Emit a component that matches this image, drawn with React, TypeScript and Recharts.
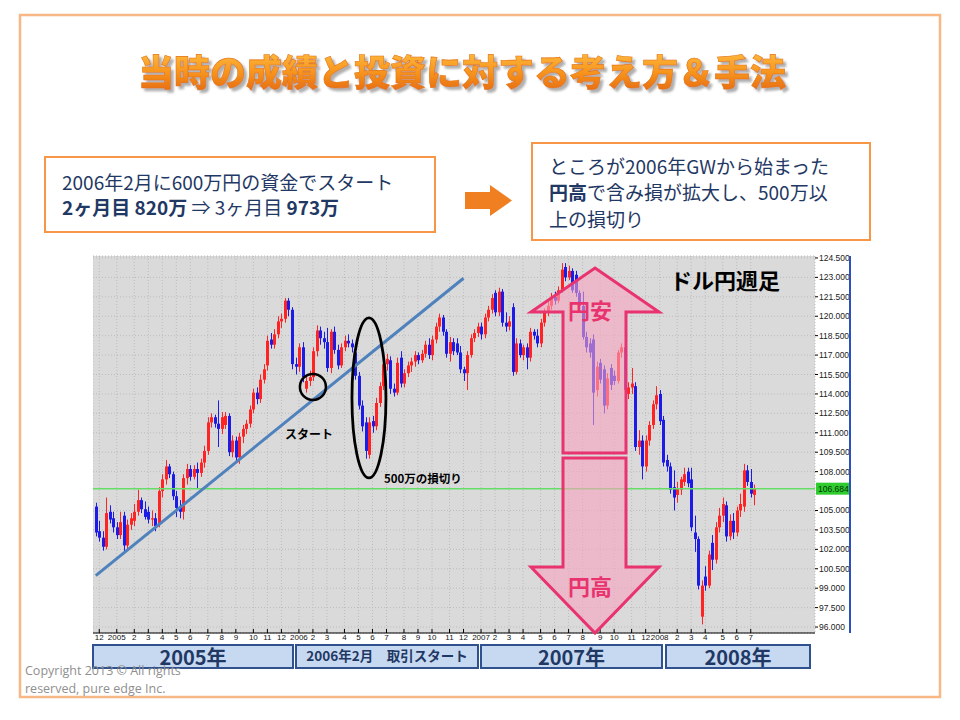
import React from "react"
import { ComposedChart, Bar, XAxis, YAxis, CartesianGrid, ReferenceLine, ReferenceDot } from "recharts"

// weekly USD/JPY candles: [open, high, low, close]
type Candle = [number, number, number, number]

const seg2005: Candle[] = [
  [105.3, 105.6, 103.0, 103.3], [103.4, 104.2, 102.6, 102.9], [102.9, 103.4, 101.9, 102.2], [102.2, 106.0, 102.0, 104.8],
  [104.9, 105.4, 104.0, 104.3], [104.4, 104.9, 103.3, 103.7], [103.7, 104.1, 102.8, 103.1], [103.1, 104.9, 102.8, 104.1],
  [104.6, 104.9, 101.7, 102.3], [102.3, 104.3, 102.0, 103.9], [103.9, 104.8, 103.5, 104.4], [104.2, 105.5, 103.8, 104.9],
  [104.9, 106.6, 104.6, 105.8], [105.8, 106.0, 104.8, 105.1], [105.1, 105.7, 104.3, 104.5], [104.9, 105.3, 104.0, 104.3],
  [104.3, 105.0, 103.8, 104.4], [104.4, 104.8, 103.4, 103.8], [103.9, 106.8, 103.7, 106.5], [106.5, 107.8, 106.0, 107.4],
  [107.4, 108.9, 107.0, 108.4], [108.4, 108.6, 107.5, 107.8], [107.8, 108.0, 105.8, 106.1], [106.1, 106.5, 104.5, 105.2],
  [105.3, 105.8, 104.4, 104.9], [104.9, 107.8, 104.3, 107.5], [107.5, 108.6, 107.0, 108.2], [108.2, 108.5, 107.3, 107.6],
  [107.6, 108.5, 107.4, 108.2], [108.2, 108.7, 106.7, 107.9], [107.9, 109.0, 107.6, 108.7], [108.7, 110.0, 108.3, 109.6],
  [109.6, 112.2, 109.3, 111.8], [111.8, 112.5, 111.4, 112.2], [112.2, 112.4, 111.4, 111.7], [111.7, 113.5, 109.9, 111.3],
  [111.3, 112.6, 110.9, 112.2], [111.6, 112.6, 111.3, 112.3], [112.3, 112.5, 109.2, 109.5], [109.5, 110.8, 109.1, 110.4],
  [110.4, 110.7, 108.8, 109.1], [109.1, 111.0, 108.6, 110.7], [110.7, 111.6, 110.2, 111.3], [111.3, 112.0, 110.9, 111.7],
  [111.7, 113.1, 111.4, 112.8], [112.8, 114.4, 112.5, 114.1], [114.1, 114.5, 113.2, 113.6], [113.6, 115.5, 113.3, 115.1],
  [115.1, 116.3, 114.8, 115.9], [116.2, 118.5, 115.8, 118.1], [118.2, 118.7, 117.5, 117.8], [117.8, 119.0, 117.5, 118.6],
  [118.6, 120.0, 118.3, 119.6], [119.6, 120.2, 119.1, 119.8], [119.8, 121.4, 119.5, 121.2], [121.2, 121.4, 120.0, 120.5],
  [120.5, 120.7, 115.9, 116.3],
]

const seg2006: Candle[] = [
  [116.3, 116.8, 115.5, 116.1], [116.1, 117.9, 115.7, 117.6], [117.6, 118.0, 114.9, 115.3], [114.4, 115.3, 114.1, 115.0],
  [115.0, 115.8, 114.6, 115.3], [115.3, 117.6, 115.0, 117.3], [117.3, 119.3, 116.9, 118.9], [118.9, 119.2, 117.8, 118.3],
  [118.3, 118.8, 117.5, 118.0], [118.0, 119.1, 115.7, 116.0], [116.0, 119.0, 115.6, 118.8], [118.8, 119.2, 117.1, 117.4],
  [117.4, 117.8, 115.9, 116.2], [116.2, 117.9, 116.0, 117.6], [117.6, 118.5, 117.3, 118.1], [118.1, 118.6, 117.6, 117.9],
  [117.9, 118.2, 117.2, 117.6], [117.2, 117.5, 115.1, 115.4], [115.4, 115.7, 112.8, 113.1], [113.1, 113.5, 111.1, 111.5],
  [111.8, 112.2, 109.0, 109.6], [109.3, 112.2, 109.0, 111.8], [111.9, 112.3, 111.0, 111.5], [111.5, 113.7, 111.2, 113.3],
  [113.3, 114.9, 113.0, 114.6], [114.6, 116.7, 114.3, 116.3], [116.3, 117.1, 115.8, 116.7], [116.6, 116.9, 114.0, 114.4],
  [114.4, 114.8, 113.8, 114.1], [114.1, 116.8, 113.9, 116.4], [116.8, 117.3, 114.5, 114.8], [114.8, 115.9, 114.5, 115.6],
  [115.6, 116.5, 115.3, 116.2], [116.2, 116.8, 115.7, 116.5], [116.5, 117.3, 116.1, 117.0], [117.0, 117.2, 116.3, 116.6],
  [116.6, 117.4, 116.4, 117.1], [117.1, 118.1, 116.8, 117.8], [117.8, 118.3, 116.7, 117.0], [117.0, 118.5, 116.6, 118.2],
  [118.2, 119.5, 117.9, 119.2], [119.2, 120.2, 118.8, 119.9], [119.9, 120.1, 118.5, 118.8], [118.8, 119.0, 116.8, 117.1],
  [117.1, 118.4, 116.5, 118.0], [118.0, 118.3, 117.0, 117.3], [117.9, 118.3, 117.0, 117.2], [117.2, 117.7, 115.6, 115.9],
  [115.9, 116.1, 115.0, 115.6], [115.6, 117.3, 114.3, 117.0], [117.0, 118.6, 116.8, 118.3], [118.3, 119.0, 118.0, 118.7],
]

const seg2007: Candle[] = [
  [118.7, 119.5, 118.4, 119.2], [119.2, 119.5, 118.2, 118.6], [118.6, 120.2, 118.3, 119.9], [119.9, 120.8, 119.6, 120.5],
  [120.5, 121.7, 120.2, 121.4], [121.8, 122.0, 120.0, 120.3], [120.3, 122.2, 120.0, 121.9], [121.9, 122.1, 119.2, 119.5],
  [119.5, 120.3, 118.8, 119.2], [119.2, 120.0, 118.9, 119.6], [120.7, 121.0, 115.4, 115.7], [115.7, 118.3, 115.5, 117.9],
  [117.9, 118.2, 116.8, 117.0], [117.0, 117.8, 116.6, 117.6], [117.6, 117.9, 115.9, 116.8], [116.8, 119.1, 116.5, 118.8],
  [118.8, 119.0, 118.2, 118.5], [118.5, 119.0, 117.6, 117.9], [117.9, 119.8, 117.6, 119.5], [119.5, 120.6, 119.2, 120.3],
  [120.3, 121.1, 120.0, 120.8], [120.8, 121.8, 120.5, 121.5], [121.5, 121.9, 120.9, 121.2], [121.2, 122.3, 121.0, 122.0],
  [122.0, 124.1, 121.8, 123.6], [123.8, 124.1, 122.7, 123.0], [123.0, 123.9, 122.8, 123.5], [123.5, 123.7, 121.8, 122.0],
  [123.2, 123.5, 121.5, 121.8], [121.8, 122.0, 120.5, 120.8], [120.8, 121.9, 118.2, 118.4], [118.4, 118.8, 117.2, 117.6],
  [117.9, 118.3, 116.8, 117.2], [118.2, 118.6, 111.6, 114.1], [114.3, 116.5, 113.8, 116.1], [116.4, 116.7, 114.8, 115.1],
  [115.9, 116.2, 112.5, 113.1], [113.1, 115.6, 112.8, 115.2], [116.0, 116.3, 114.3, 114.7], [115.4, 115.8, 114.7, 115.0],
  [115.0, 117.4, 114.8, 117.2], [117.2, 117.9, 116.8, 117.6], [117.6, 117.8, 114.0, 114.3], [114.0, 114.9, 113.6, 114.5],
  [114.5, 116.0, 114.0, 114.8], [114.6, 114.9, 109.6, 109.9], [109.9, 111.2, 109.3, 110.4], [110.4, 110.8, 107.4, 108.4],
  [108.4, 110.8, 108.0, 110.4], [110.4, 111.9, 110.0, 111.6], [111.6, 113.5, 111.3, 113.2], [113.2, 114.6, 112.8, 113.9],
]

const seg2008: Candle[] = [
  [114.0, 114.3, 111.6, 111.9], [112.0, 112.3, 108.4, 108.7], [108.9, 109.3, 108.0, 108.4], [108.4, 108.7, 106.3, 106.6],
  [106.8, 108.1, 105.0, 106.0], [106.2, 107.2, 105.6, 106.7], [106.6, 107.6, 106.2, 107.4], [107.2, 108.3, 106.9, 107.8],
  [108.0, 108.3, 106.8, 107.1], [107.4, 108.3, 103.4, 103.7], [103.3, 104.6, 101.8, 102.8], [102.8, 103.0, 98.9, 99.2],
  [96.8, 99.6, 96.2, 99.2], [99.9, 100.7, 98.8, 99.2], [99.2, 101.9, 99.0, 101.6], [102.5, 103.1, 100.4, 101.2],
  [101.2, 104.1, 100.9, 103.7], [103.7, 105.2, 103.3, 104.6], [104.6, 106.0, 104.1, 105.5], [105.4, 105.7, 102.6, 103.0],
  [103.0, 104.7, 102.7, 104.2], [104.2, 104.8, 102.8, 103.3], [103.3, 105.3, 103.0, 105.0], [105.0, 106.3, 104.5, 105.5],
  [105.3, 108.6, 104.9, 108.1], [108.1, 108.5, 106.9, 107.2], [107.2, 108.2, 106.0, 106.3], [106.2, 107.0, 105.4, 106.7],
]

const lastPrice = 106.684

// month labels along the bottom and the week they sit on
const monthTickWeeks = [1, 6, 11, 15, 19, 23, 27, 32, 36, 40, 45, 49, 53, 58, 62, 66, 71, 75, 79, 83, 88, 92, 96, 101, 105,
  110, 114, 118, 122, 127, 131, 135, 139, 144, 148, 153, 157, 161, 166, 170, 174, 179, 183, 187]
const monthTickLabels = ["12", "2005", "2", "3", "4", "5", "6", "7", "8", "9", "10", "11", "12", "2006", "2", "3", "4", "5",
  "6", "7", "8", "9", "10", "11", "12", "2007", "2", "3", "4", "5", "6", "7", "8", "9", "10", "11", "12", "2008", "2", "3", "4",
  "5", "6", "7"]
// 106.500 sits under the price tag, so it is left out
const priceTicks = [96, 97.5, 99, 100.5, 102, 103.5, 105, 108, 109.5, 111, 112.5, 114, 115.5, 117, 118.5, 120, 121.5,
  123, 124.5]

// hand-drawn support line and marks, in chart units
const trendLine = [{ x: 0, y: 99.97 }, { x: 105, y: 122.93 }]
const startMark = { week: 62, price: 114.54 }
const lossMark = { week: 78, price: 113.69 }

const yearBands = ["2005年", "2006年2月　取引スタート", "2007年", "2008年"]

const rows = [...seg2005, ...seg2006, ...seg2007, ...seg2008].map(([open, high, low, close], i) => ({
  week: i, open, high, low, close, range: [low, high],
}))

const labelOf = new Map(monthTickWeeks.map((w, i) => [w, monthTickLabels[i]]))

const UP = "#ff2424"
const DOWN = "#1c1ce6"
const JP = '"Noto Sans CJK JP", sans-serif'
const SMALL = '"Liberation Sans", Arial, sans-serif'

function CandleShape(props: any) {
  const { x, y, width, height, payload } = props
  if (!payload) return null
  const { open, high, low, close } = payload
  const top = Math.min(y, y + height)
  const h = Math.abs(height)
  const span = high - low || 1
  const py = (v: number) => top + ((high - v) / span) * h
  const cx = Math.round(x + width / 2)
  const color = close >= open ? UP : DOWN
  const bTop = py(Math.max(open, close))
  const bBot = py(Math.min(open, close))
  return (
    <g>
      <line x1={cx + 0.5} x2={cx + 0.5} y1={top} y2={top + h} stroke={color} strokeWidth={1} />
      <rect x={cx - 1} y={bTop} width={3} height={Math.max(1, bBot - bTop)} fill={color} />
    </g>
  )
}

function MonthTick({ x, y, payload }: any) {
  return (
    <g>
      <line x1={x} x2={x} y1={y - 4} y2={y} stroke="#000" />
      <text x={x} y={y + 7} textAnchor="middle" fontSize={8} fontFamily={SMALL} fill="#111">
        {labelOf.get(payload.value)}
      </text>
    </g>
  )
}

function PriceTick({ x, y, payload }: any) {
  return (
    <g>
      <line x1={x} x2={x + 3} y1={y} y2={y} stroke="#000" />
      <text x={x + 4} y={y + 3} fontSize={8.5} fontFamily={SMALL} fill="#222">
        {Number(payload.value).toFixed(3)}
      </text>
    </g>
  )
}

function PriceTag(p: any) {
  const vb = p.viewBox
  if (!vb) return null
  const x = vb.x + vb.width
  return (
    <g>
      <rect x={x + 1} y={vb.y - 6} width={34} height={12} fill="#2fcc2f" />
      <text x={x + 3} y={vb.y + 3} fontSize={8.5} fontFamily={SMALL} fill="#003300">
        {lastPrice.toFixed(3)}
      </text>
    </g>
  )
}

function StopLossEllipse(p: any) {
  return <ellipse cx={p.cx} cy={p.cy} rx={17} ry={80} fill="none" stroke="#000" strokeWidth={2.8} />
}

export default function App() {
  const bandBoxes = [
    { x: 93, w: 200 },
    { x: 296, w: 182 },
    { x: 481, w: 181 },
    { x: 666, w: 144 },
  ]
  return (
    <div style={{ position: "absolute", left: 0, top: 0, width: 960, height: 720, background: "#fff" }}>
      <div style={{ position: "absolute", left: 93, top: 248 }}>
        <ComposedChart width={757} height={399} data={rows} margin={{ top: 8, right: 0, bottom: 0, left: 0 }}>
          <CartesianGrid fill="#dadada" stroke="#bcbcbc" strokeDasharray="1 2" />
          <XAxis
            dataKey="week"
            type="category"
            ticks={monthTickWeeks}
            interval={0}
            height={14}
            tickSize={0}
            tickMargin={0}
            tickLine={false}
            axisLine={{ stroke: "#000" }}
            tick={<MonthTick />}
            padding={{ left: 1, right: 59 }}
          />
          <YAxis
            orientation="right"
            domain={[95.54, 124.65]}
            ticks={priceTicks}
            interval={0}
            allowDataOverflow
            width={35}
            tickSize={0}
            tickMargin={0}
            tickLine={false}
            axisLine={false}
            tick={<PriceTick />}
          />
          <ReferenceLine y={lastPrice} stroke="#66dd66" strokeWidth={1.5} label={PriceTag} />
          <Bar dataKey="range" shape={CandleShape} isAnimationActive={false} />
          <ReferenceLine segment={trendLine} stroke="#4f81bd" strokeWidth={3} ifOverflow="visible" />
          <ReferenceDot x={startMark.week} y={startMark.price} r={13} fill="none" stroke="#000" strokeWidth={2.5} ifOverflow="visible" />
          <ReferenceDot x={lossMark.week} y={lossMark.price} shape={StopLossEllipse} ifOverflow="visible" />
        </ComposedChart>
      </div>

      <svg width={960} height={720} style={{ position: "absolute", left: 0, top: 0, pointerEvents: "none" }}>
        <defs>
          <linearGradient id="titleFill" x1="0" y1="0" x2="0" y2="1">
            <stop offset="0" stopColor="#ffc84a" />
            <stop offset="0.55" stopColor="#f7941d" />
            <stop offset="1" stopColor="#e2620c" />
          </linearGradient>
          <filter id="titleShadow" x="-5%" y="-30%" width="110%" height="160%">
            <feDropShadow dx="3" dy="3" stdDeviation="1.3" floodColor="#7a7a7a" floodOpacity="0.6" />
          </filter>
        </defs>

        <rect x={20} y={15} width={920} height={682} fill="none" stroke="#f8b885" strokeWidth={2.5} />

        <text
          x={462}
          y={86}
          textAnchor="middle"
          fontFamily={JP}
          fontSize={36}
          fontWeight={900}
          fill="url(#titleFill)"
          stroke="#e2751a"
          strokeWidth={0.6}
          filter="url(#titleShadow)"
        >
          当時の成績と投資に対する考え方＆手法
        </text>

        <rect x={45} y={157} width={390} height={75} fill="none" stroke="#f79646" strokeWidth={2} />
        <g fontFamily={JP} fontSize={19} fill="#1f3864" style={{ whiteSpace: "pre" }}>
          <text x={62} y={190}>2006年2月に600万円の資金でスタート</text>
          <text x={62} y={215}>
            <tspan fontWeight={700}>2ヶ月目 820万</tspan>
            <tspan> ⇒ 3ヶ月目 </tspan>
            <tspan fontWeight={700}>973万</tspan>
          </text>
        </g>

        <polygon points="465,192 490,192 490,185 512,200.5 490,216 490,209 465,209" fill="#f07f22" />

        <rect x={532} y={143} width={338} height={97} fill="none" stroke="#f79646" strokeWidth={2} />
        <g fontFamily={JP} fontSize={19} fill="#1f3864" style={{ whiteSpace: "pre" }}>
          <text x={549} y={174}>ところが2006年GWから始まった</text>
          <text x={549} y={200}>
            <tspan fontWeight={700}>円高</tspan>
            <tspan>で含み損が拡大し、500万以</tspan>
          </text>
          <text x={549} y={227}>上の損切り</text>
        </g>

        <line x1={850} x2={850} y1={256} y2={633} stroke="#2a52be" strokeWidth={2} />

        <g fill="#f6a3c0" fillOpacity={0.6} stroke="#e8336f" strokeWidth={3}>
          <polygon points="595,268 659,312 626,312 626,453 563,453 563,312 531,312" />
          <polygon points="563,458 626,458 626,567 659,567 595,633 531,567 563,567" />
        </g>
        <g fontFamily={JP} fontSize={22} fontWeight={700} fill="#e8336f" textAnchor="middle">
          <text x={590} y={319}>円安</text>
          <text x={590} y={595}>円高</text>
        </g>

        <g fontFamily={JP} fontWeight={700} fill="#000">
          <text x={670} y={289} fontSize={22}>ドル円週足</text>
          <text x={285} y={439} fontSize={12}>スタート</text>
          <text x={384} y={483} fontSize={11.5}>500万の損切り</text>
        </g>

        {bandBoxes.map((b, i) => (
          <g key={i}>
            <rect x={b.x} y={645} width={b.w} height={23} fill="#c6d9f1" stroke="#2f528f" strokeWidth={2} />
            <text
              x={b.x + b.w / 2}
              y={i === 1 ? 661 : 665}
              textAnchor="middle"
              fontFamily={JP}
              fontWeight={700}
              fontSize={i === 1 ? 13.5 : 20}
              fill="#1f3864"
              style={{ whiteSpace: "pre" }}
            >
              {yearBands[i]}
            </text>
          </g>
        ))}

        <g fontFamily='"Open Sans", sans-serif' fontSize={12.5} fill="#8f8f8f">
          <text x={25} y={675}>Copyright 2013 © All rights</text>
          <text x={25} y={693}>reserved, pure edge Inc.</text>
        </g>
      </svg>
    </div>
  )
}
